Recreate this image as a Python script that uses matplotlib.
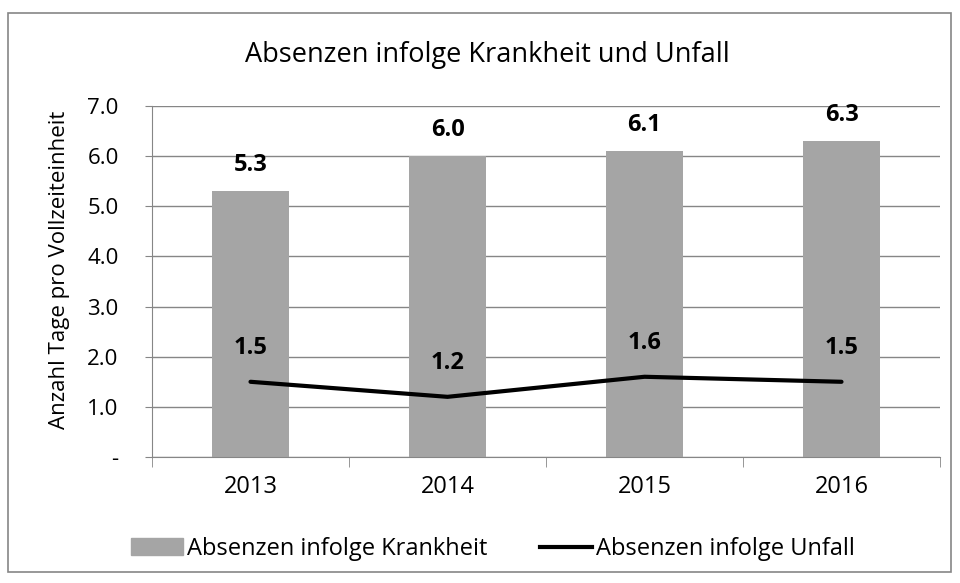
import matplotlib.pyplot as plt
from matplotlib.patches import Rectangle, Patch
from matplotlib.lines import Line2D

plt.rcParams['font.family'] = ['Open Sans', 'DejaVu Sans']

years = ['2013', '2014', '2015', '2016']
krankheit = [5.3, 6.0, 6.1, 6.3]
unfall = [1.5, 1.2, 1.6, 1.5]
yticks = [0, 1, 2, 3, 4, 5, 6, 7]
ylabels = ['-', '1.0', '2.0', '3.0', '4.0', '5.0', '6.0', '7.0']

W, H = 960, 583
fig = plt.figure(figsize=(W / 100, H / 100), dpi=100)
fig.patches.append(Rectangle((8 / W, 1 - 572 / H), 943 / W, 559 / H,
                             transform=fig.transFigure, fill=False,
                             edgecolor='#868686', linewidth=1.2))

ax = fig.add_axes([152 / W, 1 - 457 / H, 788 / W, 351 / H])
x = list(range(len(years)))
ax.bar(x, krankheit, width=0.39, color='#a5a5a5', zorder=2)
ax.plot(x, unfall, color='black', linewidth=3, zorder=3, solid_capstyle='round')

for xi, v in zip(x, krankheit):
    ax.annotate(f'{v:.1f}', (xi, v), xytext=(0, 19), textcoords='offset points',
                ha='center', va='center', fontsize=17, fontweight='bold')
for xi, v in zip(x, unfall):
    ax.annotate(f'{v:.1f}', (xi, v), xytext=(0, 24), textcoords='offset points',
                ha='center', va='center', fontsize=17, fontweight='bold')

ax.set_xlim(-0.5, 3.5)
ax.set_ylim(0, 7)
ax.set_yticks(yticks)
ax.set_yticklabels(ylabels)
ax.set_xticks(x)
ax.set_xticklabels(years)
ax.set_xticks([-0.5, 0.5, 1.5, 2.5, 3.5], minor=True)
ax.tick_params(axis='x', which='major', length=0, pad=13, labelsize=17)
ax.tick_params(axis='x', which='minor', length=7, color='#868686')
ax.tick_params(axis='y', length=5, color='#868686', pad=19, labelsize=16)
ax.grid(axis='y', color='#868686', linewidth=1, zorder=0)
ax.set_axisbelow(True)
for s in ['top', 'right']:
    ax.spines[s].set_visible(False)
for s in ['left', 'bottom']:
    ax.spines[s].set_color('#868686')

fig.text(60 / W, 1 - 270 / H, 'Anzahl Tage pro Vollzeiteinheit', rotation=90,
         ha='center', va='center', fontsize=16)
fig.text(487 / W, 1 - 55 / H, 'Absenzen infolge Krankheit und Unfall',
         ha='center', va='center', fontsize=19.5)

handles = [Patch(color='#a5a5a5'), Line2D([], [], color='black', linewidth=3)]
fig.legend(handles, ['Absenzen infolge Krankheit', 'Absenzen infolge Unfall'],
           loc='center', bbox_to_anchor=(493 / W, 1 - 549 / H), ncol=2,
           frameon=False, fontsize=17, handlelength=2.2, handletextpad=0.17,
           columnspacing=2.2, borderpad=0, borderaxespad=0)

fig.savefig('out.png', dpi=100)
